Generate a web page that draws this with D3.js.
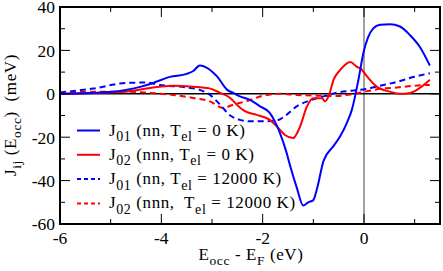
<!DOCTYPE html>
<html>
<head>
<meta charset="utf-8">
<script src="https://cdn.jsdelivr.net/npm/d3@7"></script>
<style>
  body { margin: 0; background: #fff; }
  svg text { font-family: "Liberation Serif", "Times New Roman", serif; white-space: pre; }
</style>
</head>
<body>
<svg width="443" height="271"></svg>
<script>
// J01, nn, Tel = 0 K
var j01Cold = [[-6,0],[-5.35,0.4],[-4.7,1.8],[-4.4,3.3],[-4.16,5],[-3.83,7.8],[-3.5,9.2],[-3.37,10.5],
  [-3.24,13],[-3.1,12],[-2.9,8],[-2.7,1.8],[-2.58,0.4],[-2.45,-1.2],[-2.25,-2.8],[-2.05,-5.8],
  [-1.86,-8.8],[-1.76,-12.7],[-1.66,-18],[-1.53,-27],[-1.46,-33],[-1.33,-43],[-1.2,-51.5],
  [-1.1,-50],[-1.0,-49],[-0.93,-44],[-0.8,-31],[-0.6,-24],[-0.47,-19.6],[-0.34,-13.5],[-0.24,-7.4],
  [-0.11,6.5],[-0.01,19],[0.08,26],[0.18,30],[0.32,31.8],[0.51,32],[0.71,31],[0.91,27],[1.1,21.7],[1.3,13]];
// J02, nnn, Tel = 0 K
var j02Cold = [[-6,0],[-5.35,0.4],[-4.7,1],[-4.03,3.3],[-3.77,3.7],[-3.37,3.3],[-3.05,2.5],[-2.84,0.4],
  [-2.64,-1.9],[-2.51,-5],[-2.35,-8],[-2.12,-9.7],[-1.86,-12],[-1.72,-15],[-1.56,-19],[-1.4,-20.4],
  [-1.26,-15],[-1.13,-6],[-1.0,-2],[-0.83,-2],[-0.77,-3.5],[-0.7,-1.2],[-0.6,6.5],[-0.47,11],
  [-0.27,14.7],[-0.14,12.4],[-0.06,11.5],[0.06,8],[0.25,3.3],[0.51,1],[0.71,0],[0.91,0.4],[1.1,2.7],[1.3,6.5]];
// J01, nn, Tel = 12000 K
var j01Hot = [[-6,0.6],[-5.35,2.4],[-4.7,5],[-4.3,5.2],[-4.03,4.1],[-3.5,2.9],[-3.24,1.8],[-3.04,-0.5],
  [-2.84,-5],[-2.64,-10],[-2.45,-12],[-2.25,-12.7],[-1.99,-12.7],[-1.72,-12.3],[-1.53,-9.7],
  [-1.33,-5.8],[-1.07,-3.1],[-0.8,-1.2],[-0.53,0.6],[-0.21,1.5],[0.06,2.3],[0.32,3.7],[0.65,5.5],[0.97,7.7],[1.3,9.5]];
// J02, nnn, Tel = 12000 K
var j02Hot = [[-6,0],[-5.35,1],[-4.7,1],[-4.22,0.4],[-3.77,-0.5],[-3.37,-1.9],[-3.04,-3.5],[-2.78,-6.5],
  [-2.58,-5],[-2.31,-3.3],[-1.99,-0.9],[-1.66,0],[-1.33,-0.5],[-0.93,-0.9],[-0.53,-1],[-0.27,-0.3],
  [0,0.9],[0.32,2.3],[0.65,2.9],[0.97,3.7],[1.3,4.1]];

var xMajor = [-6, -4, -2, 0];
var xMinor = [-5, -3, -1, 1];
var yMajor = [-60, -40, -20, 0, 20, 40];
var yMinor = [-50, -30, -10, 10, 30];

var series = [
  { data: j01Cold, color: "#0000ff", dash: null, label: ["J", "01", " (nn, T", "el", " = 0 K)"] },
  { data: j02Cold, color: "#ff0000", dash: null, label: ["J", "02", " (nnn, T", "el", " = 0 K)"] },
  { data: j01Hot, color: "#0000ff", dash: "6,4", label: ["J", "01", " (nn, T", "el", " = 12000 K)"] },
  { data: j02Hot, color: "#ff0000", dash: "6,4", label: ["J", "02", " (nnn,  T", "el", " = 12000 K)"] }
];

var pLeft = 60, pRight = 440, pTop = 7, pBottom = 224;

var x = d3.scaleLinear().domain([-6, 1.5]).range([pLeft, pRight]);
var y = d3.scaleLinear().domain([-60, 40]).range([pBottom, pTop]);

var svg = d3.select("svg");

// zero lines
svg.append("line")
  .attr("x1", x(0)).attr("x2", x(0)).attr("y1", pTop).attr("y2", pBottom)
  .attr("stroke", "#444").attr("stroke-width", 1);
svg.append("line")
  .attr("x1", pLeft).attr("x2", pRight).attr("y1", y(0)).attr("y2", y(0))
  .attr("stroke", "#000").attr("stroke-width", 1.5);

// curves
var line = d3.line()
  .x(d => x(d[0]))
  .y(d => y(d[1]))
  .curve(d3.curveMonotoneX);

svg.append("g")
  .selectAll("path")
  .data(series.slice().reverse())
  .join("path")
  .attr("fill", "none")
  .attr("stroke", d => d.color)
  .attr("stroke-width", 2)
  .attr("stroke-dasharray", d => d.dash)
  .attr("d", d => line(d.data));

// ticks, inward, on all four sides
var ticks = svg.append("g").attr("stroke", "#000").attr("stroke-width", 1);
function addXTicks(vals, len) {
  vals.forEach(v => {
    ticks.append("line").attr("x1", x(v)).attr("x2", x(v)).attr("y1", pBottom).attr("y2", pBottom - len);
    ticks.append("line").attr("x1", x(v)).attr("x2", x(v)).attr("y1", pTop).attr("y2", pTop + len);
  });
}
function addYTicks(vals, len) {
  vals.forEach(v => {
    ticks.append("line").attr("y1", y(v)).attr("y2", y(v)).attr("x1", pLeft).attr("x2", pLeft + len);
    ticks.append("line").attr("y1", y(v)).attr("y2", y(v)).attr("x1", pRight).attr("x2", pRight - len);
  });
}
addXTicks(xMajor, 10);
addXTicks(xMinor, 5);
addYTicks(yMajor, 10);
addYTicks(yMinor, 5);

// frame
svg.append("rect")
  .attr("x", pLeft).attr("y", pTop)
  .attr("width", pRight - pLeft).attr("height", pBottom - pTop)
  .attr("fill", "none").attr("stroke", "#000").attr("stroke-width", 2);

// tick labels
svg.append("g")
  .selectAll("text")
  .data(xMajor)
  .join("text")
  .attr("x", d => x(d))
  .attr("y", 243.5)
  .attr("text-anchor", "middle")
  .attr("font-size", 17.5)
  .text(d => d);

svg.append("g")
  .selectAll("text")
  .data(yMajor)
  .join("text")
  .attr("x", 55)
  .attr("y", d => y(d) + 6.3)
  .attr("text-anchor", "end")
  .attr("font-size", 17.5)
  .text(d => d);

// text with subscripts: parts alternate normal / subscript
function richText(sel, parts, size, subSize) {
  parts.forEach((p, i) => {
    var sub = i % 2 === 1;
    var t = sel.append("tspan").text(p)
      .attr("font-size", sub ? subSize : size);
    if (sub) t.attr("dy", size * 0.33);
    else if (i > 0) t.attr("dy", -size * 0.33);
  });
}

// axis titles
var xt = svg.append("text")
  .attr("x", 251).attr("y", 259.5)
  .attr("text-anchor", "middle")
  .attr("letter-spacing", 0.6);
richText(xt, ["E", "occ", " - E", "F", " (eV)"], 17, 13.5);

var yt = svg.append("text")
  .attr("transform", "translate(15.5,115) rotate(-90)")
  .attr("text-anchor", "middle")
  .attr("letter-spacing", 0.6);
richText(yt, ["J", "ij", " (E", "occ", ")  (meV)"], 17, 13.5);

// legend
var legend = svg.append("g");
series.forEach((s, i) => {
  var ly = 135.5 + i * 24.3;
  legend.append("line")
    .attr("x1", 77).attr("x2", 100)
    .attr("y1", ly - 5).attr("y2", ly - 5)
    .attr("stroke", s.color)
    .attr("stroke-width", 2)
    .attr("stroke-dasharray", s.dash ? "4,3" : null);
  var t = legend.append("text").attr("x", 109).attr("y", ly)
    .attr("letter-spacing", 0.6);
  richText(t, s.label, 17, 14);
});
</script>
</body>
</html>
